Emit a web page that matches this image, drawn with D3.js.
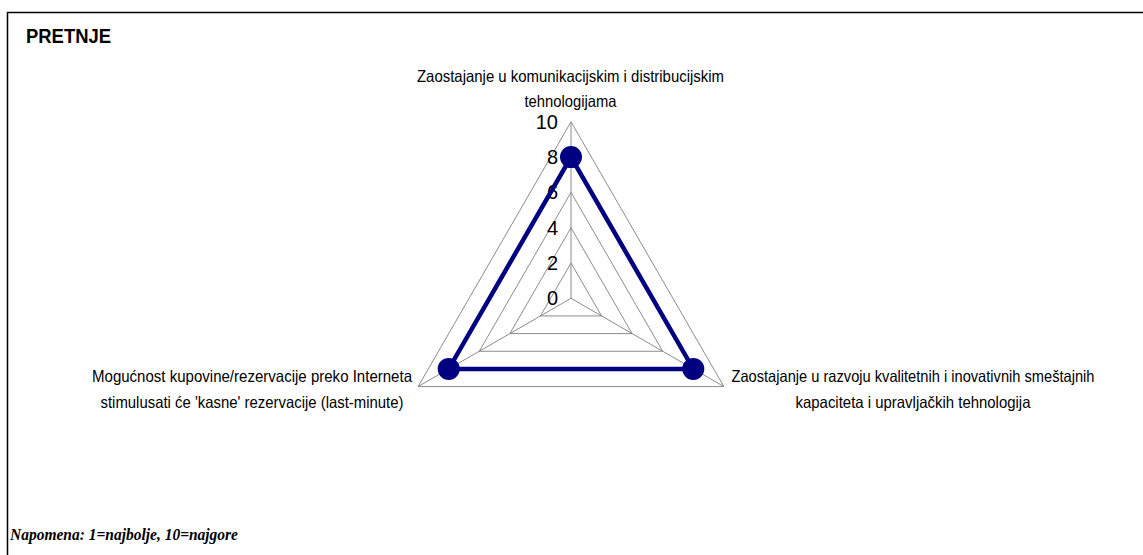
<!DOCTYPE html>
<html>
<head>
<meta charset="utf-8">
<script src="https://cdn.jsdelivr.net/npm/d3@7"></script>
<style>
  html, body { margin: 0; padding: 0; background: #fff; }
  svg { display: block; }
  .sans { font-family: "Liberation Sans", Arial, sans-serif; }
  .narrow { font-family: "Liberation Sans Narrow", "Arial Narrow", "Liberation Sans", Arial, sans-serif; }
</style>
</head>
<body>
<svg id="chart" width="1143" height="555"></svg>
<script>
const title = "PRETNJE";
const note = "Napomena: 1=najbolje, 10=najgore";
const categories = [
  ["Zaostajanje u komunikacijskim i distribucijskim", "tehnologijama"],
  ["Zaostajanje u razvoju kvalitetnih i inovativnih smeštajnih", "kapaciteta i upravljačkih tehnologija"],
  ["Mogućnost kupovine/rezervacije preko Interneta", "stimulusati će 'kasne' rezervacije (last-minute)"]
];
const values = [8, 8, 8];
const tickValues = [0, 2, 4, 6, 8, 10];

const svg = d3.select("#chart");
const W = 1143, H = 555;

// outer frame
svg.append("rect").attr("x", 7.5).attr("y", 12.5).attr("width", W).attr("height", H)
  .attr("fill", "none").attr("stroke", "#000").attr("stroke-width", 1.5);

svg.append("text").attr("class", "sans").attr("x", 26).attr("y", 43)
  .attr("font-weight", "bold").attr("font-size", 20).attr("textLength", 85)
  .attr("lengthAdjust", "spacingAndGlyphs")
  .text(title);

svg.append("text").attr("x", 10).attr("y", 540)
  .attr("font-family", "Liberation Serif, Times New Roman, serif")
  .attr("font-weight", "bold").attr("font-style", "italic").attr("font-size", 16.5)
  .attr("textLength", 228).attr("lengthAdjust", "spacingAndGlyphs")
  .text(note);

const cx = 571, cy = 298.3;
const r = d3.scaleLinear().domain([0, 10]).range([0, 176.5]);
const ang = i => (-90 + i * 360 / categories.length) * Math.PI / 180;
const pt = (i, v) => [cx + r(v) * Math.cos(ang(i)), cy + r(v) * Math.sin(ang(i))];

const g = svg.append("g");
// rings
tickValues.filter(t => t > 0).forEach(t => {
  g.append("path")
    .attr("d", d3.line()(d3.range(categories.length).map(i => pt(i, t))) + "Z")
    .attr("fill", "none").attr("stroke", "#8c8c8c").attr("stroke-width", 1);
});
// spokes
d3.range(categories.length).forEach(i => {
  g.append("line").attr("x1", cx).attr("y1", cy)
    .attr("x2", pt(i, 10)[0]).attr("y2", pt(i, 10)[1])
    .attr("stroke", "#8c8c8c").attr("stroke-width", 1);
});
// tick labels
g.selectAll("text.tick").data(tickValues).join("text")
  .attr("class", "tick narrow")
  .attr("x", cx - 13).attr("y", d => cy - r(d))
  .attr("text-anchor", "end").attr("dominant-baseline", "central")
  .attr("font-size", 20).attr("fill", "#000")
  .text(d => d);

// data polygon
const dataPts = values.map((v, i) => pt(i, v));
g.append("path").attr("d", d3.line()(dataPts) + "Z")
  .attr("fill", "none").attr("stroke", "#000080").attr("stroke-width", 4.5)
  .attr("stroke-linejoin", "miter");
g.selectAll("circle.m").data(dataPts).join("circle")
  .attr("cx", d => d[0]).attr("cy", d => d[1]).attr("r", 11)
  .attr("fill", "#000080");

// category labels
const labelPos = [
  { x: 570.5, y: [82, 107], w: [307, 92] },
  { x: 913, y: [382, 408], w: [363, 235] },
  { x: 252, y: [382, 408], w: [320, 303] }
];
categories.forEach((lines, i) => {
  lines.forEach((s, j) => {
    svg.append("text").attr("class", "sans")
      .attr("x", labelPos[i].x).attr("y", labelPos[i].y[j])
      .attr("text-anchor", "middle").attr("font-size", 16.5)
      .attr("textLength", labelPos[i].w[j]).attr("lengthAdjust", "spacingAndGlyphs")
      .text(s);
  });
});
</script>
</body>
</html>
